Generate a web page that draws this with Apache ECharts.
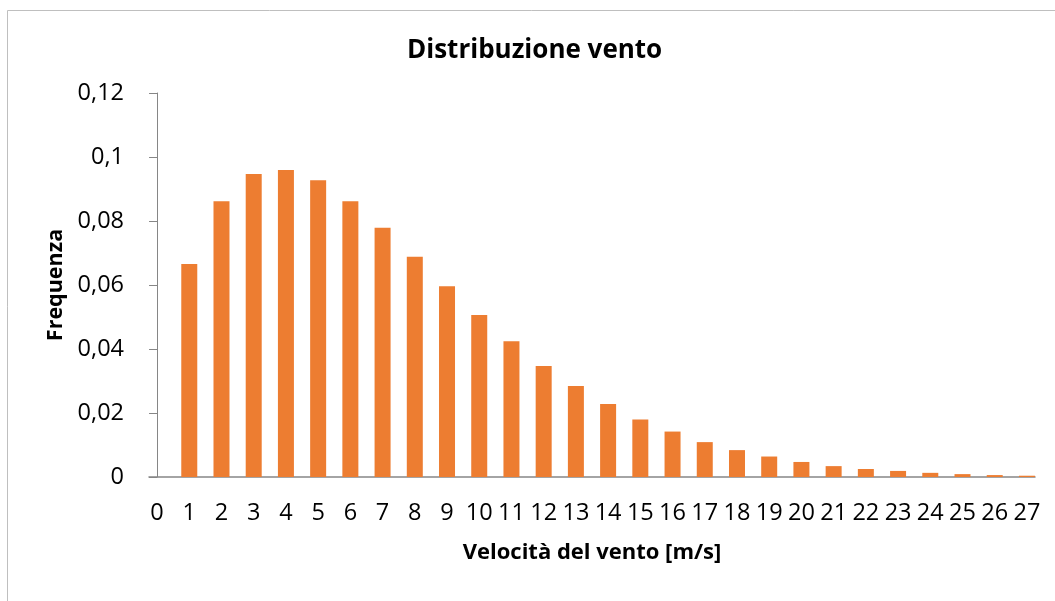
<!DOCTYPE html>
<html>
<head>
<meta charset="utf-8">
<script src="https://cdn.jsdelivr.net/npm/echarts@6/dist/echarts.min.js"></script>
<style>
  html, body { margin: 0; padding: 0; background: #fff; }
  #chart { width: 1055px; height: 601px; }
</style>
</head>
<body>
<div id="chart"></div>
<script>
// velocità del vento (m/s) -> etichette asse x
const speeds = [0, 1, 2, 3, 4, 5, 6, 7, 8, 9, 10, 11, 12, 13, 14, 15, 16, 17, 18, 19, 20, 21, 22, 23, 24, 25, 26, 27];
// frequenza
const freq = [0, 0.0666, 0.0862, 0.0947, 0.0959, 0.0927, 0.0862, 0.0779, 0.0688, 0.0596,
  0.0506, 0.0424, 0.0347, 0.0284, 0.0228, 0.0180, 0.0142, 0.0109, 0.0084, 0.0064,
  0.0047, 0.0034, 0.0025, 0.0019, 0.0013, 0.0009, 0.0006, 0.0004];
const yTicks = [0, 0.02, 0.04, 0.06, 0.08, 0.1, 0.12];

const font = '"Open Sans", "Liberation Sans", sans-serif';
const axisColor = '#868686';

let chart = echarts.init(document.getElementById('chart'));
chart.setOption({
  animation: false,
  graphic: [
    {
      type: 'rect',
      shape: { x: 7.5, y: 10.5, width: 1100, height: 700 },
      style: { fill: 'none', stroke: '#BFBFBF', lineWidth: 1 }
    },
    {
      type: 'text',
      left: 407,
      top: 38,
      style: { text: 'Distribuzione vento', font: 'bold 26px ' + font, fill: '#000' }
    }
  ],
  grid: { left: 149, right: 20, top: 93, bottom: 124 },
  xAxis: {
    type: 'value',
    min: -0.25,
    max: 27.25,
    name: 'Velocità del vento [m/s]',
    nameLocation: 'middle',
    nameGap: 65,
    nameTextStyle: { fontFamily: font, fontWeight: 'bold', fontSize: 22, color: '#000' },
    axisLine: { show: true, lineStyle: { color: axisColor, width: 1.5 } },
    axisTick: { show: false },
    splitLine: { show: false },
    axisLabel: {
      customValues: speeds,
      margin: 24,
      fontFamily: font,
      fontSize: 23.5,
      color: '#000'
    }
  },
  yAxis: {
    type: 'value',
    min: 0,
    max: 0.12,
    interval: 0.02,
    name: 'Frequenza',
    nameLocation: 'middle',
    nameGap: 81,
    nameTextStyle: { fontFamily: font, fontWeight: 'bold', fontSize: 21.5, color: '#000' },
    axisLine: { show: true, lineStyle: { color: axisColor } },
    axisTick: { show: true, length: 8, lineStyle: { color: axisColor } },
    splitLine: { show: false },
    axisLabel: {
      margin: 25,
      fontFamily: font,
      fontSize: 23.5,
      color: '#000',
      formatter: v => {
        let t = yTicks.find(k => Math.abs(k - v) < 1e-9);
        return String(t === undefined ? v : t).replace('.', ',');
      }
    }
  },
  series: [{
    type: 'bar',
    barWidth: 16,
    itemStyle: { color: '#ED7D31' },
    data: speeds.map((s, i) => [s, freq[i]])
  }]
});
</script>
</body>
</html>
